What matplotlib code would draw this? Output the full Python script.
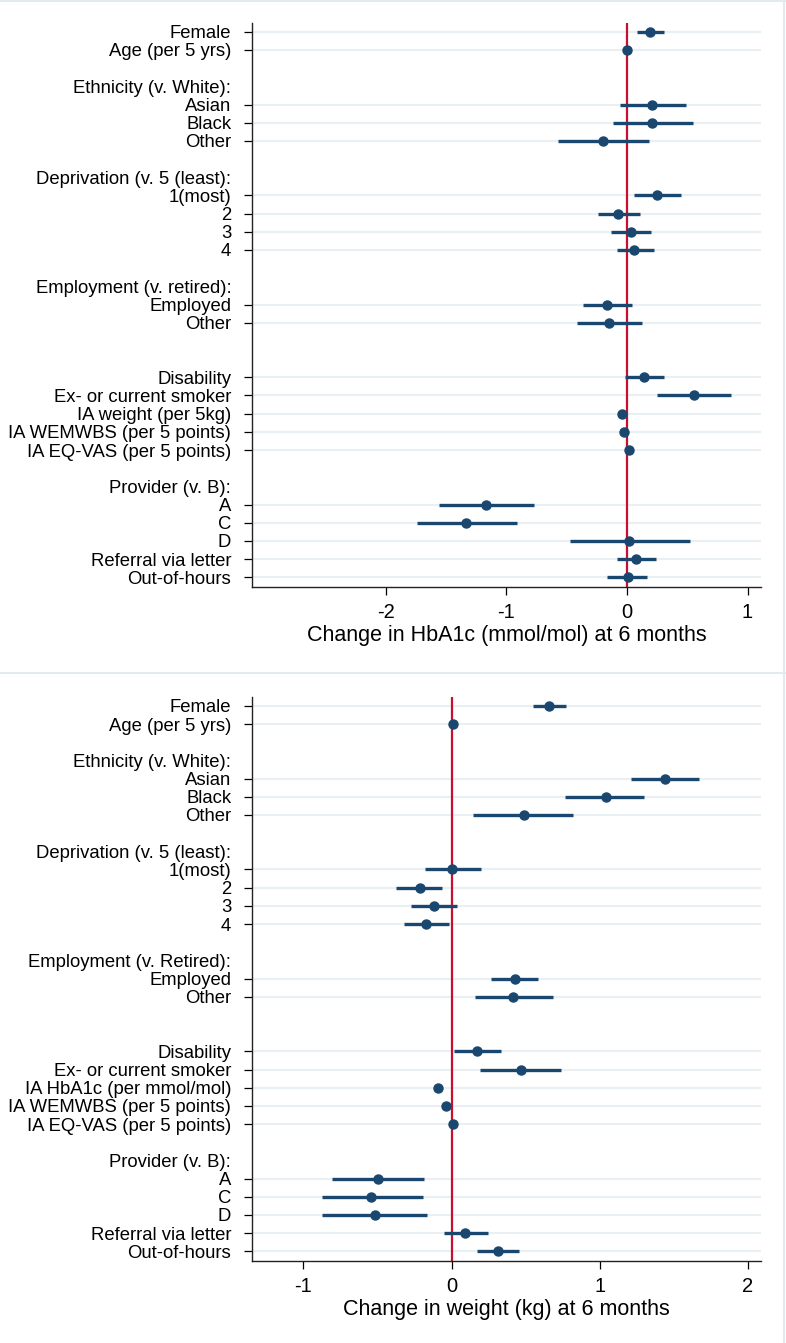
import matplotlib
matplotlib.use("Agg")
import matplotlib.pyplot as plt
from matplotlib.lines import Line2D
import numpy as np

plt.rcParams['font.family'] = ['Liberation Sans', 'DejaVu Sans']

# rows, top to bottom ("" = gap, text ending in ":" = group header)
rows_hba1c = ["Female", "Age (per 5 yrs)", "",
              "Ethnicity (v. White):", "Asian", "Black", "Other", "",
              "Deprivation (v. 5 (least):", "1(most)", "2", "3", "4", "",
              "Employment (v. retired):", "Employed", "Other", "", "",
              "Disability", "Ex- or current smoker", "IA weight (per 5kg)",
              "IA WEMWBS (per 5 points)", "IA EQ-VAS (per 5 points)", "",
              "Provider (v. B):", "A", "C", "D", "Referral via letter", "Out-of-hours"]
est_hba1c = [0.187, 0.004, None, None, 0.21, 0.21, -0.203, None, None,
             0.253, -0.075, 0.037, 0.062, None, None, -0.17, -0.149, None, None,
             0.137, 0.556, -0.041, -0.021, 0.017, None, None,
             -1.174, -1.332, 0.017, 0.075, 0.008]
lo_hba1c = [0.079, -0.012, None, None, -0.054, -0.116, -0.573, None, None,
            0.054, -0.237, -0.133, -0.087, None, None, -0.365, -0.411, None, None,
            -0.017, 0.253, -0.06, -0.04, 0.003, None, None,
            -1.556, -1.743, -0.477, -0.079, -0.162]
hi_hba1c = [0.311, 0.02, None, None, 0.49, 0.55, 0.183, None, None,
            0.448, 0.108, 0.199, 0.22, None, None, 0.041, 0.124, None, None,
            0.311, 0.867, -0.022, -0.002, 0.031, None, None,
            -0.768, -0.913, 0.519, 0.241, 0.166]

rows_weight = ["Female", "Age (per 5 yrs)", "",
               "Ethnicity (v. White):", "Asian", "Black", "Other", "",
               "Deprivation (v. 5 (least):", "1(most)", "2", "3", "4", "",
               "Employment (v. Retired):", "Employed", "Other", "", "",
               "Disability", "Ex- or current smoker", "IA HbA1c (per mmol/mol)",
               "IA WEMWBS (per 5 points)", "IA EQ-VAS (per 5 points)", "",
               "Provider (v. B):", "A", "C", "D", "Referral via letter", "Out-of-hours"]
est_weight = [0.658, 0.013, None, None, 1.437, 1.039, 0.486, None, None,
              0.003, -0.213, -0.115, -0.175, None, None, 0.425, 0.412, None, None,
              0.175, 0.466, -0.094, -0.034, 0.013, None, None,
              -0.496, -0.54, -0.513, 0.094, 0.314]
lo_weight = [0.55, 0.0, None, None, 1.208, 0.769, 0.148, None, None,
             -0.182, -0.374, -0.27, -0.32, None, None, 0.267, 0.159, None, None,
             0.017, 0.192, -0.108, -0.055, 0.0, None, None,
             -0.806, -0.874, -0.874, -0.05, 0.172]
hi_weight = [0.773, 0.026, None, None, 1.673, 1.296, 0.823, None, None,
             0.199, -0.064, 0.034, -0.02, None, None, 0.584, 0.682, None, None,
             0.331, 0.742, -0.08, -0.013, 0.026, None, None,
             -0.186, -0.192, -0.162, 0.246, 0.455]

navy = "#1a476f"
red = "#c8102e"
grid_col = "#e9f0f3"


def forest(ax, rows, est, lo, hi, xlim, xticks, xlabel):
    pos = np.arange(len(rows))
    data = [i for i in pos if est[i] is not None]
    for i in data:
        ax.plot([lo[i], hi[i]], [i, i], color=navy, lw=2.4, solid_capstyle='butt', zorder=3)
    ax.plot([est[i] for i in data], data, 'o', color=navy, ms=6.5, zorder=4)
    ax.axvline(0, color=red, lw=1.6, zorder=2)

    shown = [i for i in pos if rows[i] != ""]
    ax.set_yticks(shown)
    ax.set_yticklabels([rows[i] for i in shown], fontsize=13.3)
    ax.set_ylim(30.55, -0.5)
    ax.set_xlim(*xlim)
    ax.set_xticks(xticks)
    ax.set_xticklabels([str(t) for t in xticks], fontsize=14.5)
    ax.set_xlabel(xlabel, fontsize=15.5, labelpad=2)

    ax.grid(axis='y', color=grid_col, lw=1.5, zorder=0)
    ax.set_axisbelow(True)
    for i, tick in zip(shown, ax.yaxis.get_major_ticks()):
        if est[i] is None:
            tick.tick1line.set_visible(False)
            tick.gridline.set_visible(False)
    ax.tick_params(axis='y', length=6, width=0.9, pad=9)
    ax.tick_params(axis='x', length=5.5, width=0.9, pad=6)
    for s in ['top', 'right']:
        ax.spines[s].set_visible(False)
    for s in ['left', 'bottom']:
        ax.spines[s].set_color('#222222')
        ax.spines[s].set_linewidth(1.0)


fig = plt.figure(figsize=(7.86, 13.43), dpi=100)
ax1 = fig.add_axes([0.3206, 0.5627, 0.6476, 0.4204])
ax2 = fig.add_axes([0.3206, 0.0608, 0.6476, 0.4204])

forest(ax1, rows_hba1c, est_hba1c, lo_hba1c, hi_hba1c,
       (-3.112, 1.112), [-2, -1, 0, 1], "Change in HbA1c (mmol/mol) at 6 months")
forest(ax2, rows_weight, est_weight, lo_weight, hi_weight,
       (-1.346, 2.088), [-1, 0, 1, 2], "Change in weight (kg) at 6 months")

# faint borders of the two stacked graph images
border = "#e3eaee"
fig.add_artist(Line2D([0, 1], [0.999, 0.999], color=border, lw=1.5))
fig.add_artist(Line2D([0, 1], [1 - 673 / 1343] * 2, color=border, lw=1.5))
fig.add_artist(Line2D([0.9975, 0.9975], [0, 1], color=border, lw=1.5))

fig.savefig("out.png", dpi=100)
